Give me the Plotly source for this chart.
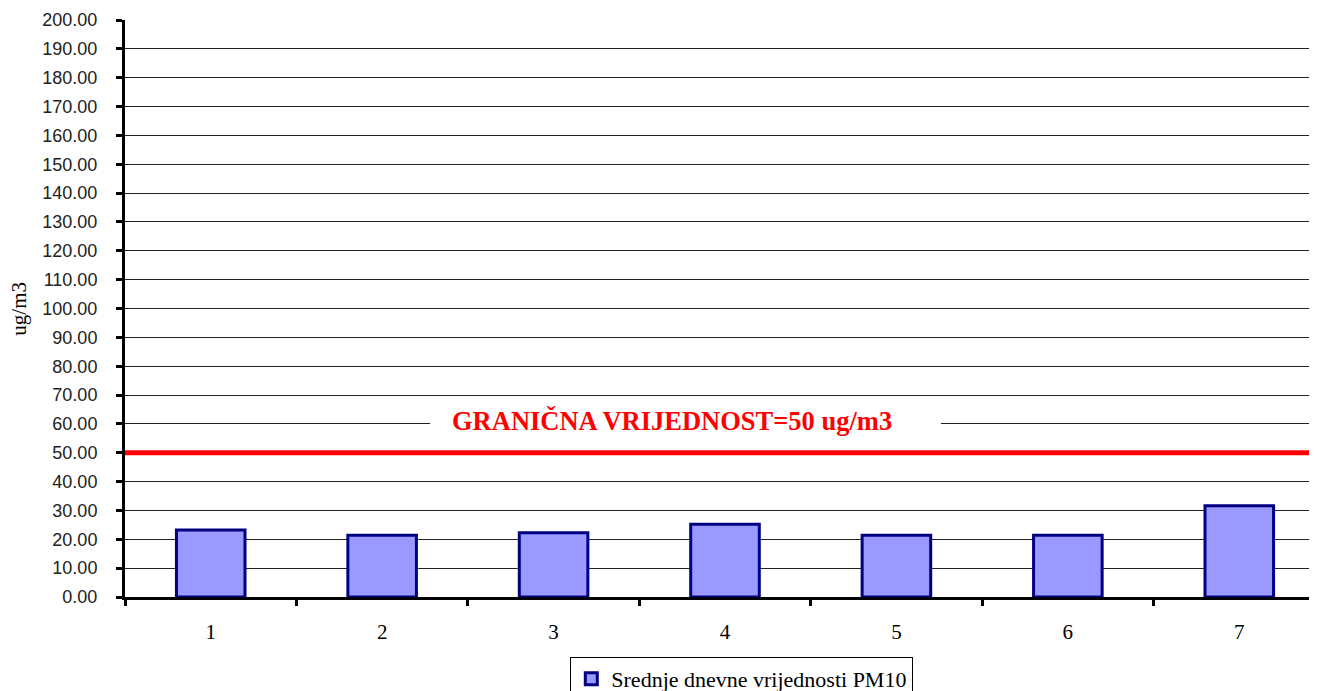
import plotly.graph_objects as go

# daily means PM10 (ug/m3)
days = ["1", "2", "3", "4", "5", "6", "7"]
pm10 = [23.2, 21.4, 22.3, 25.2, 21.4, 21.4, 31.6]
limit_value = 50
y_ticks = list(range(0, 201, 10))
series_name = "Srednje dnevne vrijednosti PM10"
limit_label = "GRANIČNA VRIJEDNOST=50 ug/m3"

fig = go.Figure()

fig.add_trace(go.Bar(
    x=days,
    y=pm10,
    name=series_name,
    width=0.40,
    marker=dict(color="#9999FF", line=dict(color="#000080", width=3)),
))

# limit line
fig.add_shape(
    type="line", xref="paper", yref="y",
    x0=0, x1=1, y0=limit_value, y1=limit_value,
    line=dict(color="#FF0000", width=5),
    layer="above",
)

# white gap in the gridline around the label
fig.add_shape(
    type="rect", xref="x", yref="y",
    x0=1.28, x1=4.26, y0=57, y1=63,
    fillcolor="white", line=dict(width=0),
    layer="above",
)
fig.add_annotation(
    x=0.456, y=61, xref="paper", yref="y",
    text="<b>" + limit_label + "</b>",
    showarrow=False,
    font=dict(family="Liberation Serif", size=26.5, color="#FF0000"),
    xanchor="center", yanchor="middle",
)

fig.add_annotation(
    x=-0.089, y=0.5, xref="paper", yref="paper",
    text="ug/m3", textangle=-90, showarrow=False,
    font=dict(family="Liberation Serif", size=21, color="black"),
    xanchor="center", yanchor="middle",
)

# page body has an 8px margin, so the figure is shifted and cropped on the right
fig.update_layout(
    width=1317, height=691,
    margin=dict(l=117, r=0, t=12, b=102, autoexpand=False),
    paper_bgcolor="white", plot_bgcolor="white",
    font=dict(family="Liberation Serif, Times New Roman, serif", color="black"),
    showlegend=True,
    legend=dict(
        x=0.514, y=-0.104, xanchor="center", yanchor="top",
        orientation="h",
        bordercolor="black", borderwidth=1,
        font=dict(family="Liberation Serif, Times New Roman, serif", size=22, color="black"),
    ),
)

fig.update_xaxes(
    type="category",
    range=[-0.5, 6.5],
    tickson="boundaries",
    ticks="outside", ticklen=6, tickwidth=3, tickcolor="black",
    showline=True, linecolor="black", linewidth=3,
    showgrid=False,
    automargin=False,
    ticklabelstandoff=14,
    tickfont=dict(family="Liberation Serif", size=21, color="black"),
)

fig.update_yaxes(
    range=[0, 200],
    tickvals=y_ticks,
    ticktext=[f"{v:.2f}" for v in y_ticks],
    ticks="outside", ticklen=6, tickwidth=3, tickcolor="black",
    showline=True, linecolor="black", linewidth=3,
    showgrid=True, gridcolor="#222222", gridwidth=1,
    zeroline=False,
    automargin=False,
    ticklabelstandoff=15,
    tickfont=dict(family="Liberation Sans", size=18, color="#222222"),
)

fig.write_html("out.html")
